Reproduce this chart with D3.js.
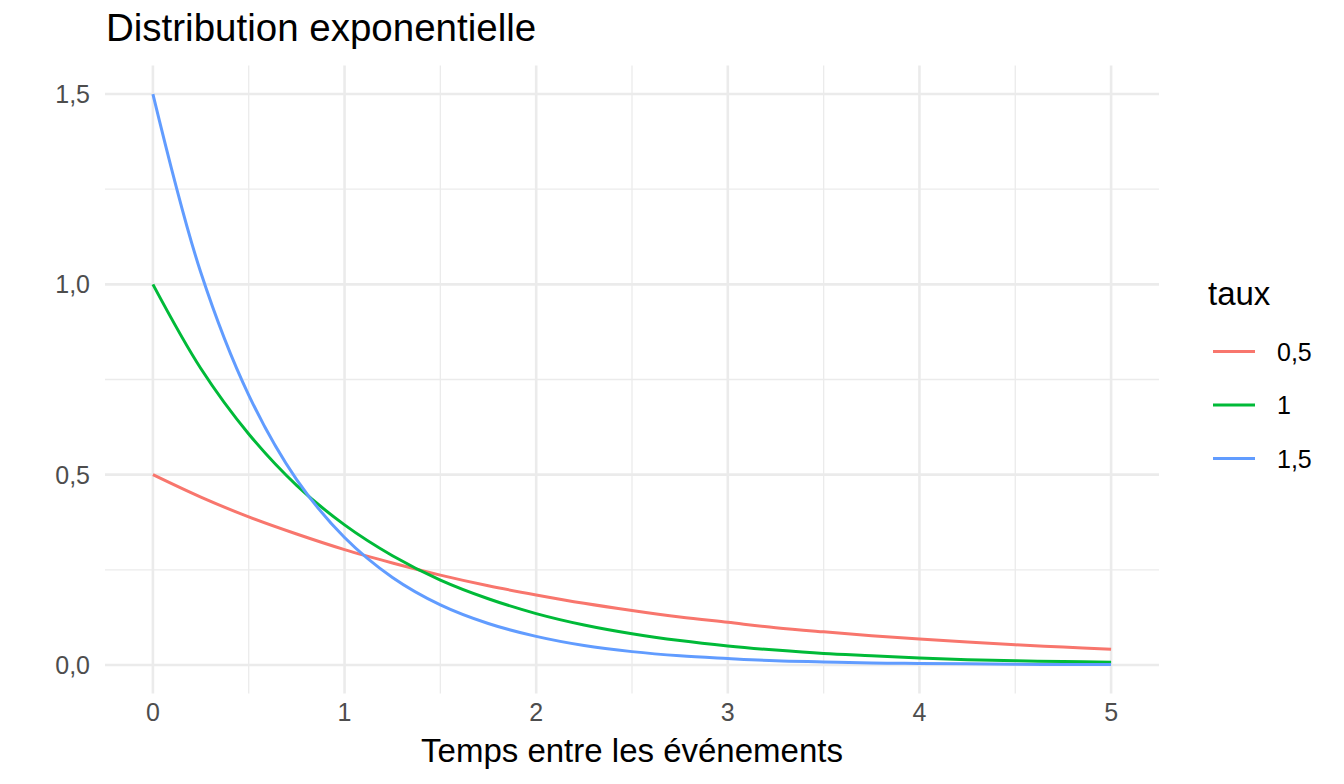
<!DOCTYPE html>
<html>
<head>
<meta charset="utf-8">
<script src="https://cdn.jsdelivr.net/npm/d3@7"></script>
<style>
  body { margin: 0; background: #fff; }
  text { font-family: "Liberation Sans", Arial, Helvetica, sans-serif; }
</style>
</head>
<body>
<div id="chart"></div>
<script>
// values, every 0.25 on the x axis
const temps = [0, 0.25, 0.5, 0.75, 1, 1.25, 1.5, 1.75, 2, 2.25, 2.5, 2.75, 3, 3.25, 3.5, 3.75, 4, 4.25, 4.5, 4.75, 5];
const taux = ["0,5", "1", "1,5"];
const dens_05 = [0.500, 0.441, 0.389, 0.344, 0.303, 0.268, 0.236, 0.208, 0.184, 0.162, 0.143, 0.126, 0.112, 0.098, 0.087, 0.077, 0.068, 0.060, 0.053, 0.047, 0.041];
const dens_1 = [1.000, 0.779, 0.607, 0.472, 0.368, 0.287, 0.223, 0.174, 0.135, 0.105, 0.082, 0.064, 0.050, 0.039, 0.030, 0.024, 0.018, 0.014, 0.011, 0.009, 0.007];
const dens_15 = [1.500, 1.031, 0.709, 0.487, 0.335, 0.230, 0.158, 0.109, 0.075, 0.051, 0.035, 0.024, 0.017, 0.011, 0.008, 0.005, 0.004, 0.003, 0.002, 0.001, 0.001];
const xTicks = [0, 1, 2, 3, 4, 5];
const xMinor = [0.5, 1.5, 2.5, 3.5, 4.5];
const yTicks = [0, 0.5, 1, 1.5];
const yMinor = [0.25, 0.75, 1.25];

const colors = ["#F8766D", "#00BA38", "#619CFF"];
const series = [dens_05, dens_1, dens_15].map((vals, i) => ({
  name: taux[i],
  values: vals.map((v, j) => ({ x: temps[j], y: v }))
}));

const width = 1344, height = 784;
const panel = { left: 105, right: 1159, top: 65.5, bottom: 693.5 };

const svg = d3.select("#chart").append("svg")
  .attr("width", width)
  .attr("height", height);

// ggplot-like 5% expansion
const x = d3.scaleLinear().domain([-0.25, 5.25]).range([panel.left, panel.right]);
const y = d3.scaleLinear().domain([-0.075, 1.575]).range([panel.bottom, panel.top]);

const grid = svg.append("g").attr("class", "grid");

// minor grid
grid.selectAll(".xminor").data(xMinor).enter().append("line")
  .attr("x1", d => x(d)).attr("x2", d => x(d))
  .attr("y1", panel.top).attr("y2", panel.bottom)
  .attr("stroke", "#EBEBEB").attr("stroke-width", 1.3);
grid.selectAll(".yminor").data(yMinor).enter().append("line")
  .attr("y1", d => y(d)).attr("y2", d => y(d))
  .attr("x1", panel.left).attr("x2", panel.right)
  .attr("stroke", "#EBEBEB").attr("stroke-width", 1.3);

// major grid
grid.selectAll(".xmajor").data(xTicks).enter().append("line")
  .attr("x1", d => x(d)).attr("x2", d => x(d))
  .attr("y1", panel.top).attr("y2", panel.bottom)
  .attr("stroke", "#EBEBEB").attr("stroke-width", 2.6);
grid.selectAll(".ymajor").data(yTicks).enter().append("line")
  .attr("y1", d => y(d)).attr("y2", d => y(d))
  .attr("x1", panel.left).attr("x2", panel.right)
  .attr("stroke", "#EBEBEB").attr("stroke-width", 2.6);

const fmt = d => d3.format(".1f")(d).replace(".", ",");

// axis labels
svg.append("g").selectAll("text").data(xTicks).enter().append("text")
  .attr("x", d => x(d))
  .attr("y", 721)
  .attr("text-anchor", "middle")
  .attr("font-size", 25)
  .attr("fill", "#4D4D4D")
  .text(d => d);

svg.append("g").selectAll("text").data(yTicks).enter().append("text")
  .attr("x", 90)
  .attr("y", d => y(d))
  .attr("dy", "0.36em")
  .attr("text-anchor", "end")
  .attr("font-size", 25)
  .attr("fill", "#4D4D4D")
  .text(fmt);

// curves
const line = d3.line()
  .x(d => x(d.x))
  .y(d => y(d.y))
  .curve(d3.curveCatmullRom.alpha(0.5));

svg.append("g").selectAll("path").data(series).enter().append("path")
  .attr("d", d => line(d.values))
  .attr("fill", "none")
  .attr("stroke", (d, i) => colors[i])
  .attr("stroke-width", 3);

// title
svg.append("text")
  .attr("x", 106)
  .attr("y", 41)
  .attr("font-size", 38.5)
  .attr("fill", "#000")
  .text("Distribution exponentielle");

svg.append("text")
  .attr("x", (x(0) + x(5)) / 2)
  .attr("y", 762)
  .attr("text-anchor", "middle")
  .attr("font-size", 33)
  .attr("fill", "#000")
  .text("Temps entre les événements");

// legend
const legend = svg.append("g").attr("transform", "translate(1208, 0)");
legend.append("text")
  .attr("x", 0)
  .attr("y", 305)
  .attr("font-size", 33)
  .attr("fill", "#000")
  .text("taux");

const items = legend.selectAll(".item").data(series).enter().append("g")
  .attr("transform", (d, i) => `translate(0, ${351.5 + i * 53.5})`);
items.append("line")
  .attr("x1", 5).attr("x2", 47)
  .attr("y1", 0).attr("y2", 0)
  .attr("stroke", (d, i) => colors[i])
  .attr("stroke-width", 3);
items.append("text")
  .attr("x", 69)
  .attr("y", 0)
  .attr("dy", "0.36em")
  .attr("font-size", 25)
  .attr("fill", "#000")
  .text(d => d.name);
</script>
</body>
</html>
